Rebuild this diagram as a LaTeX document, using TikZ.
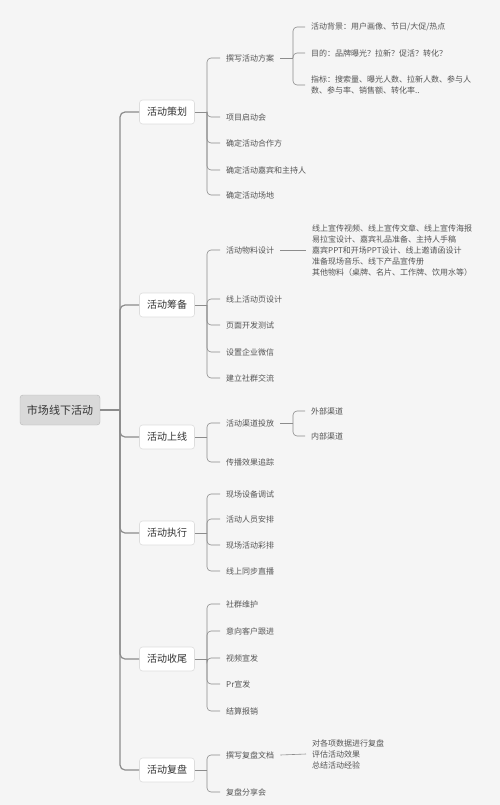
\documentclass[tikz,border=0pt]{standalone}
\usepackage{fontspec}
\setmainfont{Noto Sans CJK SC}
\definecolor{bg}{HTML}{F5F5F5}
\definecolor{linec}{HTML}{8C8C8C}
\definecolor{boxline}{HTML}{DDDDDD}
\definecolor{rootfill}{HTML}{D9D9D9}
\definecolor{rootline}{HTML}{B8B8B8}
\definecolor{txt}{HTML}{555555}
\definecolor{txtdark}{HTML}{333333}
\begin{document}
\begin{tikzpicture}[x=1pt,y=-1pt,
	main/.style={draw=rootline,fill=rootfill,rounded corners=3pt,minimum width=80pt,minimum height=30pt,font=\fontsize{11}{13}\selectfont,text=txtdark},
	topic/.style={draw=boxline,fill=white,rounded corners=3pt,line width=0.6pt,minimum width=55pt,minimum height=24pt,font=\fontsize{10}{12}\selectfont,text=txtdark},
	sub/.style={anchor=west,inner xsep=6pt,inner ysep=1pt,font=\fontsize{8}{11}\selectfont,text=txt,align=left},
	trunk/.style={draw=linec,line width=1.2pt,rounded corners=5pt},
	twig/.style={draw=linec,line width=0.6pt,rounded corners=4pt}]
	\fill[bg] (0,0) rectangle (500,805);
	\useasboundingbox (0,0) rectangle (500,805);
	% root and main topics
	\node[main] (root) at (60,410) {市场线下活动};
	\coordinate (rj) at (120,410);
	\draw[trunk] (root.east) -- (rj);
	\node[topic] (plan) at (167,112) {活动策划};
	\node[topic] (prep) at (167,305) {活动筹备};
	\node[topic] (live) at (167,437) {活动上线};
	\node[topic] (run) at (167,533) {活动执行};
	\node[topic] (wrap) at (167,659) {活动收尾};
	\node[topic] (review) at (167,770) {活动复盘};
	\foreach \t in {plan,prep,live,run,wrap,review}
		\draw[trunk] (rj) |- (\t.west);
	% 活动策划
	\coordinate (planj) at (207,112);
	\draw[twig] (plan.east) -- (planj);
	\node[sub] (plan1) at (220,58) {撰写活动方案};
	\node[sub] (plan2) at (220,117) {项目启动会};
	\node[sub] (plan3) at (220,143) {确定活动合作方};
	\node[sub] (plan4) at (220,170) {确定活动嘉宾和主持人};
	\node[sub] (plan5) at (220,195) {确定活动场地};
	\foreach \c in {plan1,plan2,plan3,plan4,plan5}
		\draw[twig] (planj) |- (\c.west);
	\coordinate (plan1j) at (293,58);
	\draw[twig] (plan1.east) -- (plan1j);
	\node[sub] (aim1) at (305,27) {活动背景：用户画像、节日/大促/热点};
	\node[sub] (aim2) at (305,53) {目的：品牌曝光？拉新？促活？转化？};
	\node[sub] (aim3) at (305,85) {指标：搜索量、曝光人数、拉新人数、参与人\\数、参与率、销售额、转化率..};
	\foreach \c in {aim1,aim2,aim3}
		\draw[twig] (plan1j) |- (\c.west);
	% 活动筹备
	\coordinate (prepj) at (207,305);
	\draw[twig] (prep.east) -- (prepj);
	\node[sub] (prep1) at (220,250) {活动物料设计};
	\node[sub] (prep2) at (220,299) {线上活动页设计};
	\node[sub] (prep3) at (220,325) {页面开发测试};
	\node[sub] (prep4) at (220,352) {设置企业微信};
	\node[sub] (prep5) at (220,378) {建立社群交流};
	\foreach \c in {prep1,prep2,prep3,prep4,prep5}
		\draw[twig] (prepj) |- (\c.west);
	\node[sub] (stuff) at (306,250) {线上宣传视频、线上宣传文章、线上宣传海报\\易拉宝设计、嘉宾礼品准备、主持人手稿\\嘉宾PPT和开场PPT设计、线上邀请函设计\\准备现场音乐、线下产品宣传册\\其他物料（桌牌、名片、工作牌、饮用水等）};
	\draw[twig] (prep1.east) -- (stuff.west);
	% 活动上线
	\coordinate (livej) at (207,437);
	\draw[twig] (live.east) -- (livej);
	\node[sub] (live1) at (220,423) {活动渠道投放};
	\node[sub] (live2) at (220,462) {传播效果追踪};
	\foreach \c in {live1,live2}
		\draw[twig] (livej) |- (\c.west);
	\coordinate (live1j) at (293,423);
	\draw[twig] (live1.east) -- (live1j);
	\node[sub] (out) at (305,411) {外部渠道};
	\node[sub] (in) at (305,436) {内部渠道};
	\foreach \c in {out,in}
		\draw[twig] (live1j) |- (\c.west);
	% 活动执行
	\coordinate (runj) at (207,533);
	\draw[twig] (run.east) -- (runj);
	\node[sub] (run1) at (220,494) {现场设备调试};
	\node[sub] (run2) at (220,519) {活动人员安排};
	\node[sub] (run3) at (220,545) {现场活动彩排};
	\node[sub] (run4) at (220,571) {线上同步直播};
	\foreach \c in {run1,run2,run3,run4}
		\draw[twig] (runj) |- (\c.west);
	% 活动收尾
	\coordinate (wrapj) at (207,659);
	\draw[twig] (wrap.east) -- (wrapj);
	\node[sub] (wrap1) at (220,604) {社群维护};
	\node[sub] (wrap2) at (220,631) {意向客户跟进};
	\node[sub] (wrap3) at (220,658) {视频宣发};
	\node[sub] (wrap4) at (220,684) {Pr宣发};
	\node[sub] (wrap5) at (220,711) {结算报销};
	\foreach \c in {wrap1,wrap2,wrap3,wrap4,wrap5}
		\draw[twig] (wrapj) |- (\c.west);
	% 活动复盘
	\coordinate (reviewj) at (207,770);
	\draw[twig] (review.east) -- (reviewj);
	\node[sub] (review1) at (220,755) {撰写复盘文档};
	\node[sub] (review2) at (220,792) {复盘分享会};
	\foreach \c in {review1,review2}
		\draw[twig] (reviewj) |- (\c.west);
	\node[sub] (sum) at (306,754) {对各项数据进行复盘\\评估活动效果\\总结活动经验};
	\draw[twig] (review1.east) -- (sum.west);
\end{tikzpicture}
\end{document}
